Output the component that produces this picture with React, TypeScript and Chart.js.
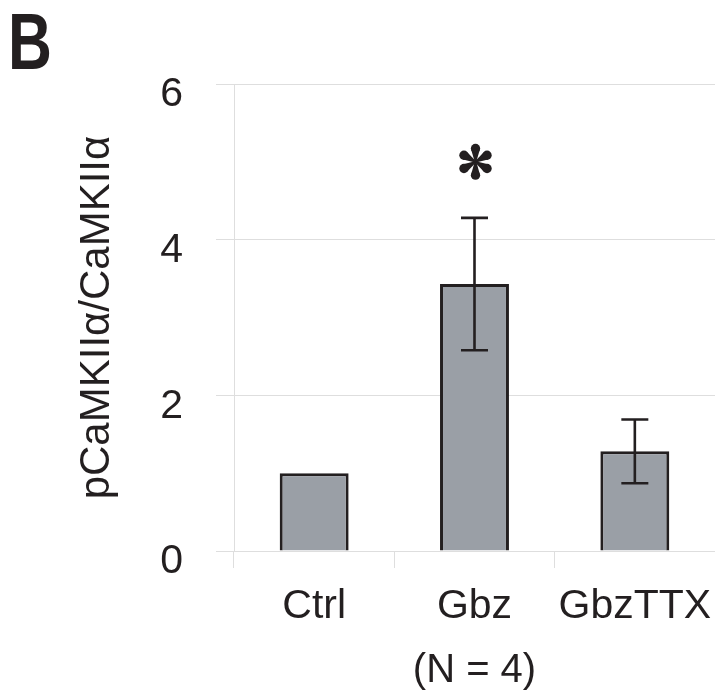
import React, { useEffect, useRef } from "react";
import { Chart, registerables } from "chart.js";

Chart.register(...registerables);

const categories = ["Ctrl", "Gbz", "GbzTTX"];
const ratioMeans = [1.0, 3.43, 1.28];
const ratioSem = [0, 0.85, 0.41];
const sigMarks = ["", "*", ""];
const yTicks = [0, 2, 4, 6];
const yTitle = "pCaMKII\u03b1/CaMKII\u03b1";
const xTitle = "(N = 4)";
const panelLetter = "B";

const INK = "#231f20";
const GRID = "#dedede";
const FONT = "'Liberation Sans', Arial, Helvetica, sans-serif";

function drawAsterisk(ctx: CanvasRenderingContext2D, cx: number, cy: number, R: number) {
  ctx.save();
  ctx.fillStyle = INK;
  for (let k = 0; k < 6; k++) {
    const a = -Math.PI / 2 + (k * Math.PI) / 3;
    const d = R * 0.74;
    const r = R * 0.26;
    const ux = Math.cos(a), uy = Math.sin(a);
    const px = -uy, py = ux;
    const ex = cx + ux * d, ey = cy + uy * d;
    ctx.beginPath();
    ctx.moveTo(cx + px * 0.8, cy + py * 0.8);
    ctx.lineTo(ex + px * r * 0.9 - ux * r * 0.3, ey + py * r * 0.9 - uy * r * 0.3);
    ctx.lineTo(ex - px * r * 0.9 - ux * r * 0.3, ey - py * r * 0.9 - uy * r * 0.3);
    ctx.lineTo(cx - px * 0.8, cy - py * 0.8);
    ctx.closePath();
    ctx.fill();
    ctx.beginPath();
    ctx.arc(ex, ey, r, 0, Math.PI * 2);
    ctx.fill();
  }
  ctx.restore();
}

const overlayPlugin = {
  id: "overlay",
  afterDatasetsDraw(chart: any) {
    const ctx = chart.ctx as CanvasRenderingContext2D;
    const yScale = chart.scales.y;
    const meta = chart.getDatasetMeta(0);
    ctx.save();
    ctx.strokeStyle = INK;
    ctx.lineWidth = 2.6;
    ratioMeans.forEach((v, i) => {
      const bar = meta.data[i];
      const x = bar.x;
      const s = ratioSem[i];
      if (s > 0) {
        const yHi = yScale.getPixelForValue(v + s);
        const yLo = yScale.getPixelForValue(v - s);
        ctx.beginPath();
        ctx.moveTo(x, yHi);
        ctx.lineTo(x, yLo);
        ctx.moveTo(x - 13.5, yHi);
        ctx.lineTo(x + 13.5, yHi);
        ctx.moveTo(x - 13.5, yLo);
        ctx.lineTo(x + 13.5, yLo);
        ctx.stroke();
      }
      if (sigMarks[i] === "*") {
        const yTop = yScale.getPixelForValue(v + s);
        drawAsterisk(ctx, x + 1, yTop - 56, 18);
      }
    });
    ctx.restore();
  },
  afterDraw(chart: any) {
    const ctx = chart.ctx as CanvasRenderingContext2D;
    ctx.save();
    ctx.fillStyle = INK;
    ctx.font = `bold 80px ${FONT}`;
    ctx.textBaseline = "alphabetic";
    ctx.translate(8, 69);
    ctx.scale(0.76, 1);
    ctx.fillText(panelLetter, 0, 0);
    ctx.restore();
  },
};

export default function App() {
  const ref = useRef<HTMLCanvasElement | null>(null);
  useEffect(() => {
    document.body.style.margin = "0";
    const canvas = ref.current!;
    const chart = new Chart(canvas, {
      type: "bar",
      data: {
        labels: categories,
        datasets: [
          {
            data: ratioMeans,
            backgroundColor: "#9a9fa6",
            borderColor: INK,
            borderWidth: 3,
            categoryPercentage: 1,
            barPercentage: 0.43,
          },
        ],
      },
      options: {
        responsive: false,
        animation: false,
        devicePixelRatio: 1,
        layout: { padding: { top: 84, left: 0, right: 0, bottom: 0 } },
        plugins: { legend: { display: false }, tooltip: { enabled: false } },
        scales: {
          x: {
            grid: {
              offset: true,
              drawOnChartArea: false,
              drawTicks: true,
              tickLength: 17,
              color: GRID,
            },
            border: { display: true, color: GRID },
            ticks: {
              font: { family: FONT, size: 41 },
              color: INK,
              padding: 14,
              maxRotation: 0,
              autoSkip: false,
            },
            title: {
              display: true,
              text: xTitle,
              font: { family: FONT, size: 40 },
              color: INK,
              padding: { top: 0, bottom: -5 },
            },
            afterFit(scale: any) {
              scale.height = 139;
              scale.paddingLeft = 0;
              scale.paddingRight = 0;
            },
          },
          y: {
            min: 0,
            max: 6,
            afterBuildTicks(scale: any) {
              scale.ticks = yTicks.map((v) => ({ value: v }));
            },
            grid: { color: GRID, tickLength: 18 },
            border: { display: true, color: GRID },
            ticks: {
              font: { family: FONT, size: 41 },
              color: INK,
              padding: 33,
              labelOffset: 11,
            },
            title: {
              display: true,
              text: yTitle,
              font: { family: FONT, size: 42 },
              color: INK,
              padding: { top: 72, bottom: 0 },
            },
            afterFit(scale: any) {
              scale.width = 234;
            },
          },
        },
      },
      plugins: [overlayPlugin],
    });
    return () => chart.destroy();
  }, []);
  return (
    <div style={{ width: 715, height: 690, background: "#fff" }}>
      <canvas ref={ref} width={715} height={690} style={{ display: "block" }} />
    </div>
  );
}
